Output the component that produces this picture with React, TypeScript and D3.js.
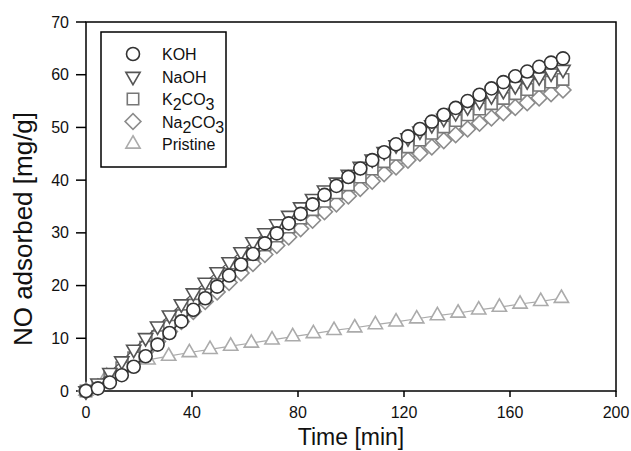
import React from "react";
import * as d3 from "d3";

const times = [0, 4.5, 9, 13.5, 18, 22.5, 27, 31.5, 36, 40.5, 45, 49.5, 54, 58.5, 63, 67.5, 72, 76.5, 81, 85.5, 90, 94.5, 99, 103.5, 108, 112.5, 117, 121.5, 126, 130.5, 135, 139.5, 144, 148.5, 153, 157.5, 162, 166.5, 171, 175.5, 180];
const koh = [0, 0.5, 1.6, 3.0, 4.6, 6.6, 8.8, 11.0, 13.2, 15.4, 17.6, 19.8, 21.9, 24.0, 26.0, 28.0, 29.9, 31.8, 33.6, 35.4, 37.2, 38.9, 40.6, 42.2, 43.8, 45.3, 46.8, 48.3, 49.7, 51.1, 52.4, 53.7, 55.0, 56.2, 57.4, 58.6, 59.7, 60.6, 61.5, 62.3, 63.1];
const naoh = [0, 1.5, 3.5, 5.7, 7.9, 10.1, 12.3, 14.4, 16.5, 18.6, 20.6, 22.6, 24.5, 26.4, 28.3, 30.0, 31.7, 33.3, 34.9, 36.5, 38.1, 39.6, 41.1, 42.6, 44.0, 45.4, 46.7, 48.0, 49.3, 50.5, 51.7, 52.8, 53.9, 55.0, 56.0, 57.0, 57.9, 58.8, 59.6, 60.3, 61.0];
const k2co3 = [0, 1.0, 2.6, 4.4, 6.3, 8.3, 10.3, 12.3, 14.3, 16.3, 18.3, 20.2, 22.1, 24.0, 25.9, 27.7, 29.4, 31.1, 32.8, 34.4, 36.0, 37.6, 39.1, 40.6, 42.1, 43.5, 44.9, 46.3, 47.6, 48.9, 50.1, 51.3, 52.4, 53.5, 54.5, 55.5, 56.4, 57.2, 58.0, 58.6, 59.1];
const na2co3 = [0, 0.8, 2.2, 3.8, 5.6, 7.5, 9.4, 11.3, 13.2, 15.1, 17.0, 18.8, 20.6, 22.4, 24.2, 25.9, 27.6, 29.2, 30.8, 32.4, 34.0, 35.5, 37.0, 38.4, 39.8, 41.2, 42.5, 43.8, 45.1, 46.3, 47.5, 48.6, 49.7, 50.8, 51.8, 52.8, 53.8, 54.7, 55.6, 56.4, 57.1];
const pristineTimes = [0, 7.8, 15.6, 23.4, 31.2, 39, 46.8, 54.6, 62.4, 70.2, 78, 85.8, 93.6, 101.4, 109.2, 117, 124.8, 132.6, 140.4, 148.2, 156, 163.8, 171.6, 179.4];
const pristine = [0, 2.8, 5.0, 5.9, 6.6, 7.3, 7.9, 8.5, 9.1, 9.7, 10.3, 10.9, 11.5, 12.0, 12.6, 13.1, 13.7, 14.3, 14.8, 15.4, 15.9, 16.5, 17.0, 17.6];

const xTicks = [0, 40, 80, 120, 160, 200];
const yTicks = [0, 10, 20, 30, 40, 50, 60, 70];

type Series = { name: string; sub?: [string, string, string]; xs: number[]; ys: number[]; color: string; shape: string };

const series: Series[] = [
  { name: "Pristine", xs: pristineTimes, ys: pristine, color: "#ababab", shape: "triUp" },
  { name: "Na2CO3", sub: ["Na", "2", "CO3"], xs: times, ys: na2co3, color: "#8c8c8c", shape: "diamond" },
  { name: "K2CO3", sub: ["K", "2", "CO3"], xs: times, ys: k2co3, color: "#777777", shape: "square" },
  { name: "NaOH", xs: times, ys: naoh, color: "#555555", shape: "triDown" },
  { name: "KOH", xs: times, ys: koh, color: "#333333", shape: "circle" },
];
const legendOrder = ["KOH", "NaOH", "K2CO3", "Na2CO3", "Pristine"];

const W = 631, H = 451;
const L = 86, R = 616, T = 22, B = 391;

function symbolPath(shape: string): { d: string; rot: number } {
  switch (shape) {
    case "circle": return { d: d3.symbol().type(d3.symbolCircle).size(133)()!, rot: 0 };
    case "square": return { d: d3.symbol().type(d3.symbolSquare).size(130)()!, rot: 0 };
    case "diamond": return { d: d3.symbol().type(d3.symbolSquare).size(125)()!, rot: 45 };
    case "triDown": return { d: d3.symbol().type(d3.symbolTriangle).size(88)()!, rot: 180 };
    default: return { d: d3.symbol().type(d3.symbolTriangle).size(88)()!, rot: 0 };
  }
}

export default function App() {
  const x = d3.scaleLinear().domain([0, 200]).range([L, R]);
  const y = d3.scaleLinear().domain([0, 70]).range([B, T]);
  const font = "Liberation Sans, Arial, sans-serif";

  return (
    <svg width={W} height={H} style={{ position: "absolute", left: 0, top: 0, background: "#fff" }} fontFamily={font}>
      <rect x={0} y={0} width={W} height={H} fill="#fff" />
      <rect x={L} y={T} width={R - L} height={B - T} fill="none" stroke="#000" strokeWidth={1.5} />
      {xTicks.map((t) => (
        <g key={"x" + t}>
          <line x1={x(t)} x2={x(t)} y1={B} y2={B + 6} stroke="#000" strokeWidth={1.5} />
          <text x={x(t)} y={B + 27} fontSize={16} textAnchor="middle" fill="#111">{t}</text>
        </g>
      ))}
      {yTicks.map((t) => (
        <g key={"y" + t}>
          <line x1={L - 10} x2={L} y1={y(t)} y2={y(t)} stroke="#000" strokeWidth={1.5} />
          <text x={L - 17} y={y(t) + 5.5} fontSize={16} textAnchor="end" fill="#111">{t}</text>
        </g>
      ))}
      <text x={351} y={445} fontSize={23} textAnchor="middle" fill="#111">Time [min]</text>
      <text transform={`translate(32, 229) rotate(-90)`} fontSize={26} textAnchor="middle" fill="#111">NO adsorbed [mg/g]</text>

      {series.map((s) => {
        const pts = s.xs.map((t, i) => [x(t), y(s.ys[i])] as [number, number]);
        const line = d3.line()(pts)!;
        const sym = symbolPath(s.shape);
        return (
          <g key={s.name}>
            <path d={line} fill="none" stroke={s.color} strokeWidth={1.2} />
            {pts.map((p, i) => (
              <path key={i} d={sym.d} transform={`translate(${p[0]},${p[1]}) rotate(${sym.rot})`} fill="#fff" stroke={s.color} strokeWidth={1.6} />
            ))}
          </g>
        );
      })}

      <rect x={101} y={32} width={125} height={135} fill="#fff" stroke="#000" strokeWidth={1.5} />
      {legendOrder.map((nm, i) => {
        const s = series.find((q) => q.name === nm)!;
        const sym = symbolPath(s.shape);
        const cy = 54 + i * 22.5;
        return (
          <g key={"lg" + nm}>
            <path d={sym.d} transform={`translate(133,${cy}) rotate(${sym.rot})`} fill="#fff" stroke={s.color} strokeWidth={1.6} />
            <text x={162} y={cy + 6} fontSize={16} fill="#111">
              {s.sub ? (
                <>
                  <tspan>{s.sub[0]}</tspan>
                  <tspan dy={5}>{s.sub[1]}</tspan>
                  <tspan dy={-5}>{s.sub[2].slice(0, 2)}</tspan>
                  <tspan dy={5}>{s.sub[2].slice(2)}</tspan>
                </>
              ) : s.name}
            </text>
          </g>
        );
      })}
    </svg>
  );
}
